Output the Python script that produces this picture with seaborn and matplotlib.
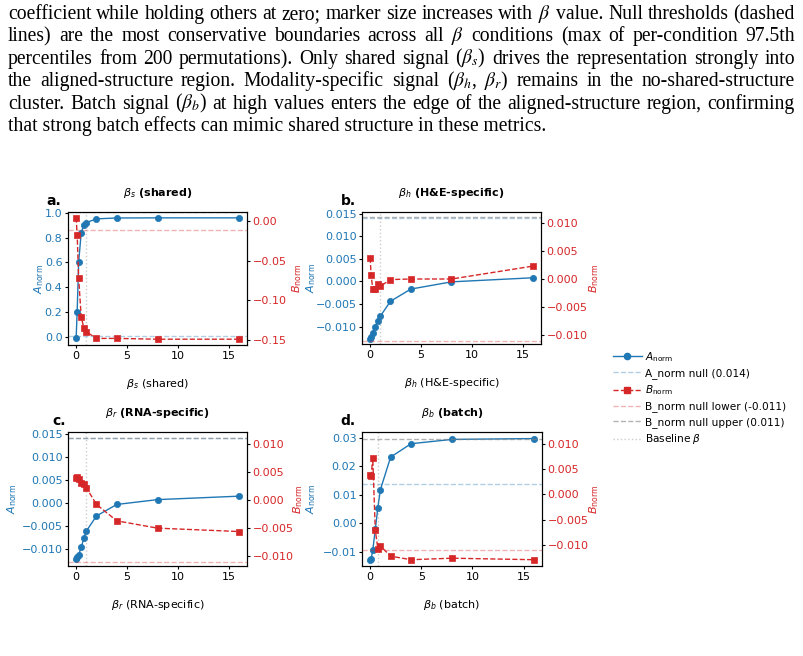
import matplotlib
matplotlib.use("Agg")
import matplotlib.pyplot as plt
from matplotlib.lines import Line2D
from matplotlib.ticker import MultipleLocator
import seaborn as sns

# beta values used in every sweep
betas = [0, 0.1, 0.25, 0.5, 0.75, 1, 2, 4, 8, 16]

# A_norm / B_norm per sweep
a_shared = [-0.008, 0.205, 0.605, 0.84, 0.90, 0.92, 0.95, 0.957, 0.958, 0.958]
b_shared = [0.0043, -0.0171, -0.0725, -0.1207, -0.1346, -0.1396, -0.148, -0.148, -0.149, -0.149]

a_he = [-0.0127, -0.0122, -0.0115, -0.0100, -0.0088, -0.0077, -0.0044, -0.0017, -0.0001, 0.0008]
b_he = [0.0038, 0.0007, -0.0017, -0.0017, -0.0009, -0.0013, -0.0001, 0.0000, 0.0000, 0.0023]

a_rna = [-0.0123, -0.0118, -0.0113, -0.0097, -0.0078, -0.0062, -0.0029, -0.0004, 0.00065, 0.0014]
b_rna = [0.0039, 0.0041, 0.0038, 0.0031, 0.0029, 0.0022, -0.0008, -0.0037, -0.0050, -0.0056]

a_batch = [-0.0127, -0.0123, -0.0094, -0.0021, 0.0056, 0.0119, 0.0233, 0.0280, 0.0295, 0.0298]
b_batch = [0.0039, 0.0037, 0.0072, -0.0071, -0.0107, -0.0102, -0.0122, -0.0129, -0.0126, -0.0129]

# null thresholds and baseline beta per panel
a_null = 0.014
b_null_lower = -0.011
b_null_upper = 0.011
baselines = [1, 1, 1, 0.75]

titles = [r"$\beta_s$ (shared)", r"$\beta_h$ (H&E-specific)",
          r"$\beta_r$ (RNA-specific)", r"$\beta_b$ (batch)"]
letters = ["a.", "b.", "c.", "d."]

caption_lines = [
    r"coefficient while holding others at zero; marker size increases with $\beta$ value. Null thresholds (dashed",
    r"lines) are the most conservative boundaries across all $\beta$ conditions (max of per-condition 97.5th",
    r"percentiles from 200 permutations). Only shared signal ($\beta_s$) drives the representation strongly into",
    r"the aligned-structure region. Modality-specific signal ($\beta_h$, $\beta_r$) remains in the no-shared-structure",
    r"cluster. Batch signal ($\beta_b$) at high values enters the edge of the aligned-structure region, confirming",
    r"that strong batch effects can mimic shared structure in these metrics.",
]

blue = "#1f77b4"
red = "#d62728"
W, H = 804, 656

fig = plt.figure(figsize=(W / 100, H / 100), dpi=100)

# panel layout in pixels (left, top, width, height), axis limits, tick steps, label spots
panels = [
    dict(a=a_shared, b=b_shared, rect=(68, 212, 179, 133),
         alim=(-0.062, 1.005), blim=(-0.1563, 0.0113), astep=0.2, bstep=0.05,
         lx=-0.12, ya=-0.123, yb=1.240),
    dict(a=a_he, b=b_he, rect=(362, 212, 179, 132),
         alim=(-0.01385, 0.01535), blim=(-0.0116, 0.01196), astep=0.005, bstep=0.005,
         lx=-0.12, ya=-0.246, yb=1.257),
    dict(a=a_rna, b=b_rna, rect=(68, 432, 179, 134),
         alim=(-0.01378, 0.01535), blim=(-0.01172, 0.01207), astep=0.005, bstep=0.005,
         lx=-0.09, ya=-0.274, yb=1.246),
    dict(a=a_batch, b=b_batch, rect=(362, 432, 180, 134),
         alim=(-0.01491, 0.0321), blim=(-0.01414, 0.01229), astep=0.01, bstep=0.005,
         lx=-0.12, ya=-0.244, yb=1.250),
]

for i, p in enumerate(panels):
    left, top, w, h = p["rect"]
    ax = fig.add_axes([left / W, 1 - (top + h) / H, w / W, h / H])

    sns.lineplot(x=betas, y=p["a"], color=blue, marker="o", markersize=4.5,
                 markeredgecolor=blue, markeredgewidth=0.5, linewidth=1,
                 ax=ax, legend=False)
    ax.axhline(a_null, color=blue, alpha=0.35, linestyle="--", linewidth=1)
    ax.axvline(baselines[i], color="gray", alpha=0.4, linestyle=":", linewidth=1)
    ax.set_xlim(-0.8, 16.8)
    ax.set_ylim(*p["alim"])
    ax.xaxis.set_major_locator(MultipleLocator(5))
    ax.yaxis.set_major_locator(MultipleLocator(p["astep"]))

    ax2 = ax.twinx()
    sns.lineplot(x=betas, y=p["b"], color=red, marker="s", markersize=4.5,
                 markeredgecolor=red, markeredgewidth=0.5, linewidth=1,
                 linestyle="--", ax=ax2, legend=False)
    ax2.axhline(b_null_lower, color=red, alpha=0.35, linestyle="--", linewidth=1)
    ax2.axhline(b_null_upper, color="gray", alpha=0.6, linestyle="--", linewidth=1)
    ax2.set_ylim(*p["blim"])
    ax2.yaxis.set_major_locator(MultipleLocator(p["bstep"]))

    ax.set_title(titles[i], fontsize=8, fontweight="bold", pad=11.5)
    ax.text(p["lx"], 1.03, letters[i], transform=ax.transAxes,
            fontsize=10, fontweight="bold", va="bottom")
    ax.set_xlabel(titles[i], fontsize=8, labelpad=12)
    ax.set_ylabel(r"$A_{\rm norm}$", color=blue, fontsize=8)
    ax2.set_ylabel(r"$B_{\rm norm}$", color=red, fontsize=8)
    ax.yaxis.set_label_coords(p["ya"], 0.5)
    ax2.yaxis.set_label_coords(p["yb"], 0.5)
    ax.tick_params(axis="x", labelsize=8, length=2.5, pad=1.5)
    ax.tick_params(axis="y", labelcolor=blue, labelsize=8, length=2.5, pad=1.5)
    ax2.tick_params(axis="y", labelcolor=red, labelsize=8, length=2.5, pad=1.5)

handles = [
    Line2D([], [], color=blue, marker="o", markersize=4.5, linewidth=1),
    Line2D([], [], color=blue, alpha=0.35, linestyle="--", linewidth=1),
    Line2D([], [], color=red, marker="s", markersize=4.5, linestyle="--", linewidth=1),
    Line2D([], [], color=red, alpha=0.35, linestyle="--", linewidth=1),
    Line2D([], [], color="gray", alpha=0.6, linestyle="--", linewidth=1),
    Line2D([], [], color="gray", alpha=0.4, linestyle=":", linewidth=1),
]
labels = [r"$A_{\rm norm}$", "A_norm null (0.014)", r"$B_{\rm norm}$",
          "B_norm null lower (-0.011)", "B_norm null upper (0.011)", r"Baseline $\beta$"]
fig.legend(handles, labels, loc="center left", bbox_to_anchor=(609 / W, 1 - 398 / H),
           frameon=False, fontsize=7.6, handlelength=2.7, handletextpad=0.3,
           labelspacing=0.42, borderaxespad=0)

# caption above the panels, justified like the source document
cap_left, cap_right = 8, 795
renderer = fig.canvas.get_renderer()
probe = [fig.text(0, 0, ln, fontsize=12, family="Liberation Serif", math_fontfamily="stix")
         for ln in caption_lines]
widest = max(t.get_window_extent(renderer).width for t in probe)
for t in probe:
    t.remove()
cap_size = 12 * (cap_right - cap_left) / widest * 0.995

for k, ln in enumerate(caption_lines):
    y = 1 - (19 + 22.4 * k) / H
    if k == len(caption_lines) - 1:
        fig.text(cap_left / W, y, ln, fontsize=cap_size, family="Liberation Serif",
                 math_fontfamily="stix", va="baseline")
        continue
    words = ln.split(" ")
    texts = [fig.text(0, y, wd, fontsize=cap_size, family="Liberation Serif",
                      math_fontfamily="stix", va="baseline") for wd in words]
    widths = [t.get_window_extent(renderer).width for t in texts]
    gap = (cap_right - cap_left - sum(widths)) / (len(words) - 1)
    x = cap_left
    for t, wd in zip(texts, widths):
        t.set_x(x / W)
        x += wd + gap

fig.savefig("out.png", dpi=100)
